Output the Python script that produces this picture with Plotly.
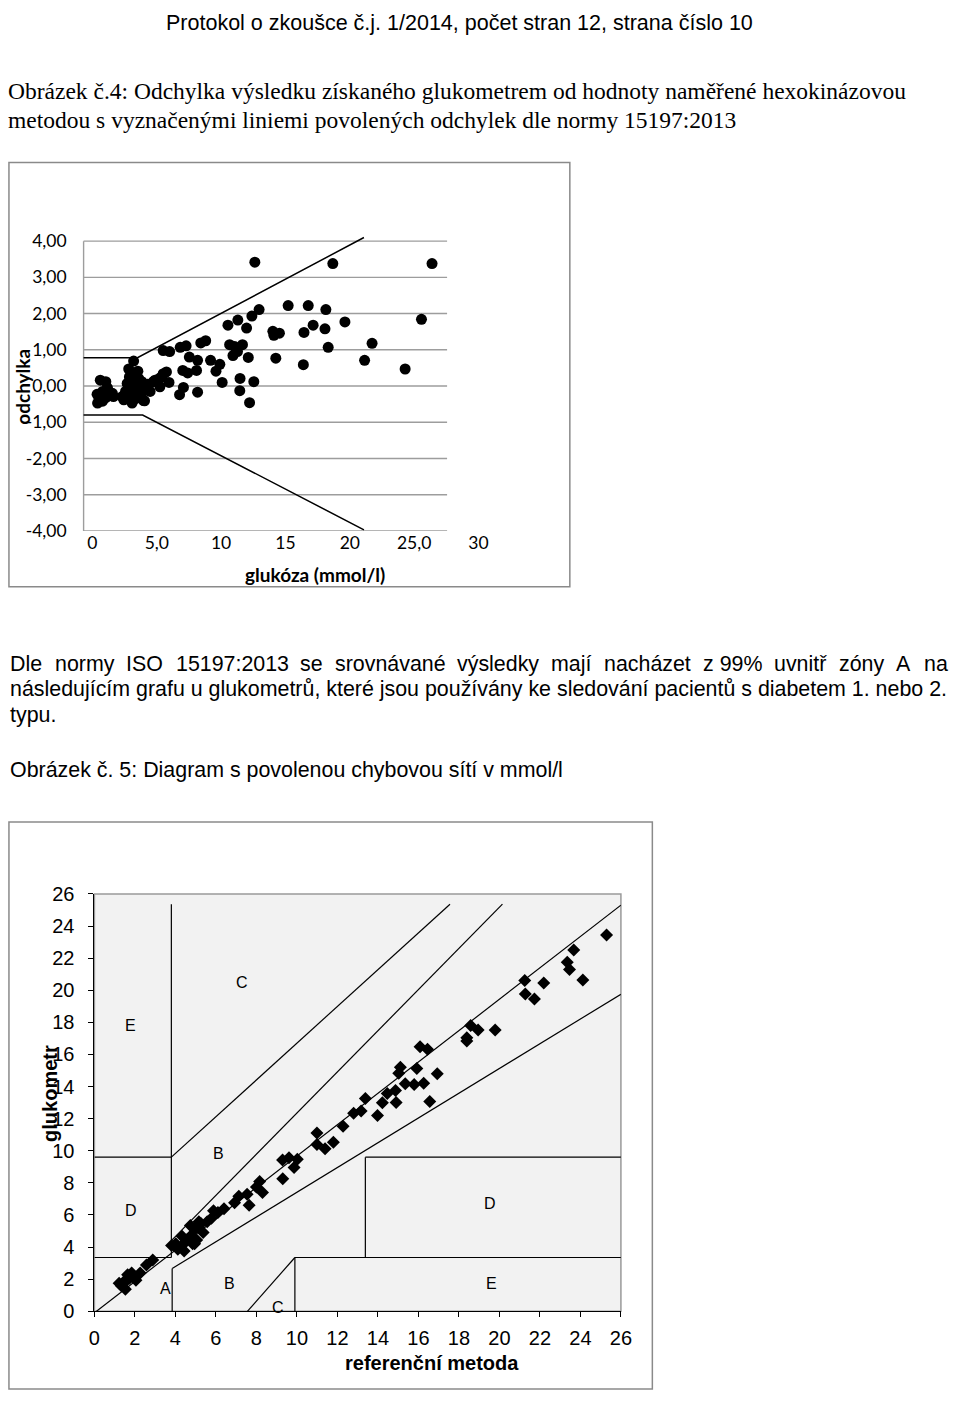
import plotly.graph_objects as go

W, H = 960, 1402

# ---------------- Chart 1 data: odchylka vs glukóza ----------------
dev_glucose = [12.62, 18.68, 26.39, 12.95, 15.21, 16.77, 18.14, 12.39, 11.30, 10.53,
               11.98, 19.62, 25.57, 14.02, 14.10, 14.53, 16.44, 17.15, 18.07, 8.80,
               8.42, 10.66, 11.05, 11.66, 11.27, 10.92, 21.73, 18.32, 12.11, 14.25,
               21.15, 16.39, 24.30, 9.18, 8.17, 9.90, 9.60, 8.09, 11.47, 12.54,
               10.08, 8.17, 11.45, 12.21, 6.82, 7.28, 5.50, 6.00, 7.53, 3.20,
               2.82, 3.53, 7.02, 7.40, 5.50, 5.75, 5.32, 4.86, 5.95, 7.07,
               6.77, 3.97, 2.82, 0.61, 1.04, 1.17, 0.36, 0.40, 0.79, 1.04,
               1.63, 0.79, 1.55, 2.87, 3.59, 2.70, 3.20, 3.84, 4.22, 3.97,
               2.57, 3.03, 3.53, 2.44, 3.08, 4.05, 4.48, 4.73, 5.11, 5.42,
               5.24, 2.31, 3.30, 3.40, 3.70, 2.90, 3.60, 3.00, 3.35, 3.80, 4.30]
dev_diff = [3.42, 3.38, 3.38, 2.11, 2.22, 2.22, 2.11, 1.93, 1.82, 1.68,
            1.60, 1.77, 1.84, 1.51, 1.40, 1.46, 1.48, 1.68, 1.58, 1.25,
            1.19, 1.14, 1.09, 1.14, 0.95, 0.84, 1.18, 1.07, 0.79, 0.77,
            0.71, 0.59, 0.47, 0.71, 0.71, 0.60, 0.41, 0.43, 0.21, 0.12,
            0.10, -0.17, -0.13, -0.46, 1.07, 1.11, 0.98, 0.95, 0.80, 0.69,
            0.47, 0.41, 0.43, 0.36, 0.34, 0.39, 0.24, 0.16, 0.10, -0.04,
            -0.24, -0.40, -0.15, 0.16, 0.12, -0.05, -0.23, -0.47, -0.42, -0.32,
            -0.29, -0.15, -0.20, 0.25, 0.21, 0.07, 0.03, 0.12, -0.02, -0.11,
            -0.15, -0.20, -0.26, -0.38, -0.47, -0.41, -0.15, 0.12, 0.19, 0.25,
            -0.02, -0.29, 0.30, -0.05, -0.10, -0.30, 0.00, 0.10, -0.35, -0.30, 0.05]

limit_upper_x = [-0.69, 3.5, 21.1]
limit_upper_y = [0.78, 0.78, 4.10]
limit_lower_x = [-0.69, 3.9, 21.1]
limit_lower_y = [-0.80, -0.80, -3.97]

grid1_levels = [4, 3, 2, 1, 0, -1, -2, -3, -4]
grid1_text = ["4,00", "3,00", "2,00", "1,00", "0,00", "-1,00", "-2,00", "-3,00", "-4,00"]
grid1_xend = 27.56
x1_tickvals = [0, 5, 10, 15, 20, 25, 30]
x1_ticktext = ["0", "5,0", "10", "15", "20", "25,0", "30"]

# ---------------- Chart 2 data: glukometr vs referenční metoda ----------------
ref_method = [25.29, 23.67, 23.35, 23.46, 24.12, 21.25, 22.19, 21.28, 21.73, 18.58,
              18.95, 19.79, 18.39, 18.39, 16.08, 16.45, 16.93, 15.11, 15.03, 15.92,
              15.35, 15.79, 16.26, 16.56, 14.87, 14.46, 14.22, 14.90, 13.98, 13.38,
              13.17, 12.80, 12.28, 11.80, 10.99, 10.99, 11.39, 10.02, 9.61, 9.86,
              9.29, 9.30, 8.16, 8.00, 8.30, 7.64, 7.54, 7.13, 6.92, 6.40,
              6.10, 5.88, 5.78, 5.57, 5.26, 5.16, 4.95, 4.74, 4.74, 4.54,
              4.33, 4.33, 4.02, 3.81, 4.12, 4.43, 4.85, 5.05, 5.37, 5.16,
              4.95, 2.88, 2.57, 2.26, 1.95, 1.84, 1.74, 1.53, 1.43, 1.33,
              1.53, 1.22, 1.64, 2.05]
meter = [23.44, 22.50, 21.74, 21.29, 20.63, 20.60, 20.45, 19.77, 19.45, 17.81,
         17.53, 17.53, 17.04, 16.83, 16.48, 16.32, 14.79, 15.20, 14.83, 15.13,
         14.17, 14.13, 14.21, 13.07, 13.76, 13.56, 12.99, 13.00, 12.19, 13.25,
         12.47, 12.33, 11.52, 10.53, 11.10, 10.39, 10.12, 9.47, 9.57, 8.96,
         9.43, 8.25, 8.08, 7.74, 7.40, 6.60, 7.29, 7.17, 6.76, 6.38,
         6.15, 6.26, 5.80, 5.58, 5.46, 5.24, 5.12, 5.35, 4.67, 4.44,
         4.10, 4.67, 4.21, 4.10, 3.87, 3.76, 4.21, 4.44, 4.90, 5.58,
         4.21, 3.19, 2.89, 2.39, 2.16, 2.39, 2.05, 1.94, 1.71, 1.59,
         1.37, 1.75, 2.28, 1.94]

zone_x0 = [3.80, 0.00, 0.00, 3.80, 3.80, 0.00, 3.84, 3.84, 7.35, 9.90, 9.90, 13.38, 13.38]
zone_y0 = [3.35, 9.60, 3.35, 9.60, 4.40, -0.10, 2.66, 0.00, -0.30, 0.00, 3.35, 3.35, 9.60]
zone_x1 = [3.80, 3.80, 3.80, 17.56, 20.15, 26.00, 26.00, 3.84, 9.90, 9.90, 26.00, 13.38, 26.00]
zone_y1 = [25.36, 9.60, 3.35, 25.36, 25.36, 25.30, 19.75, 2.66, 3.35, 3.35, 3.35, 9.60, 9.60]

zone_labels = ["E", "C", "D", "B", "A", "B", "C", "D", "E"]
zone_label_x = [1.8, 7.3, 1.8, 6.15, 3.5, 6.65, 9.05, 19.55, 19.6]
zone_label_y = [17.8, 20.5, 6.3, 9.8, 1.4, 1.7, 0.25, 6.7, 1.7]

# ---------------- helpers (pixel -> paper) ----------------
def fx(p):
    return p / W

def fy(p):
    return 1 - p / H

X1_PX0, X1_SCALE = 88.0, 13.1     # pixel of x=0, px per unit
Y1_PX0, Y1_SCALE = 381.0, 36.8    # pixel of y=0, px per unit
x1_left_px, x1_right_px = 77, 494
y1_min, y1_max = -4.0, 4.3

fig = go.Figure()

fig.add_trace(go.Scatter(x=limit_upper_x, y=limit_upper_y, mode="lines",
                         line=dict(color="black", width=1.5), xaxis="x", yaxis="y",
                         hoverinfo="skip", showlegend=False))
fig.add_trace(go.Scatter(x=limit_lower_x, y=limit_lower_y, mode="lines",
                         line=dict(color="black", width=1.5), xaxis="x", yaxis="y",
                         hoverinfo="skip", showlegend=False))
fig.add_trace(go.Scatter(x=dev_glucose, y=dev_diff, mode="markers",
                         marker=dict(color="black", size=11, symbol="circle",
                                     line=dict(width=0)),
                         xaxis="x", yaxis="y", showlegend=False))

fig.add_trace(go.Scatter(x=ref_method, y=meter, mode="markers",
                         marker=dict(color="black", size=10, symbol="diamond",
                                     line=dict(width=0)),
                         xaxis="x2", yaxis="y2", showlegend=False))

shapes = []
for lv in grid1_levels:
    shapes.append(dict(type="line", xref="x", yref="y", x0=(79 - X1_PX0) / X1_SCALE,
                       x1=grid1_xend, y0=lv, y1=lv,
                       line=dict(color="#9d9d9d", width=1.4), layer="below"))
shapes.append(dict(type="line", xref="x", yref="y", x0=(79 - X1_PX0) / X1_SCALE,
                   x1=(79 - X1_PX0) / X1_SCALE, y0=-4, y1=4,
                   line=dict(color="#9d9d9d", width=1.4), layer="below"))
shapes.append(dict(type="rect", xref="paper", yref="paper", x0=fx(3), x1=fx(574),
                   y0=fy(585), y1=fy(154), line=dict(color="#8a8a8a", width=1.5)))
shapes.append(dict(type="rect", xref="paper", yref="paper", x0=fx(3), x1=fx(658),
                   y0=fy(1400), y1=fy(824), line=dict(color="#8a8a8a", width=1.5)))
shapes.append(dict(type="rect", xref="x2 domain", yref="y2 domain", x0=0, x1=1, y0=0, y1=1,
                   fillcolor="#f2f2f2", line=dict(color="#9a9a9a", width=1.5), layer="below"))
for a, b, c, d in zip(zone_x0, zone_y0, zone_x1, zone_y1):
    shapes.append(dict(type="line", xref="x2", yref="y2", x0=a, y0=b, x1=c, y1=d,
                       line=dict(color="black", width=1.2)))

annotations = []
TXT = "Liberation Sans"
SERIF = "Liberation Serif"

def note(text, x, y, size, family, xanchor="left", color="black", bold=False, angle=0):
    if bold:
        text = "<b>" + text + "</b>"
    annotations.append(dict(text=text, x=fx(x), y=fy(y), xref="paper", yref="paper",
                            xanchor=xanchor, yanchor="middle", showarrow=False,
                            textangle=angle, borderpad=0,
                            font=dict(size=size, family=family, color=color)))

# Arial / Liberation Sans advance widths (1/1000 em) used to justify one line
ARIAL_W = {' ': 278, 'a': 556, 'b': 556, 'c': 500, 'd': 556, 'e': 556, 'f': 278, 'g': 556,
           'h': 556, 'i': 222, 'j': 222, 'k': 500, 'l': 222, 'm': 833, 'n': 556, 'o': 556,
           'p': 556, 'r': 333, 's': 500, 't': 278, 'u': 556, 'v': 500, 'y': 500, 'z': 500,
           'D': 722, 'I': 278, 'S': 667, 'O': 778, 'A': 667, ':': 278, '%': 889, '.': 278,
           'á': 556, 'é': 556, 'í': 278, 'ý': 500, 'ř': 333, 'ó': 556, 'č': 500}
for dch in "0123456789":
    ARIAL_W[dch] = 556

def text_w(s, size):
    return sum(ARIAL_W.get(ch, 556) for ch in s) * size / 1000.0

BODY = 21.4
note("Protokol o zkoušce č.j. 1/2014, počet stran 12, strana číslo 10", 462, 12, 21.5, TXT,
     xanchor="center")
note("Obrázek č.4: Odchylka výsledku získaného glukometrem od hodnoty naměřené hexokinázovou",
     1, 81, 23.5, SERIF)
note("metodou s vyznačenými liniemi povolených odchylek dle normy 15197:2013", 1, 111, 23.5, SERIF)

line1_words = ["Dle", "normy", "ISO", "15197:2013", "se", "srovnávané", "výsledky", "mají",
               "nacházet", "z 99%", "uvnitř", "zóny", "A", "na"]
lx0, lx1 = 3.0, 957.0
widths = [text_w(wd, BODY) for wd in line1_words]
gap = (lx1 - lx0 - sum(widths)) / (len(line1_words) - 1)
cx = lx0
for wd, wdt in zip(line1_words, widths):
    note(wd, cx, 663, BODY, TXT)
    cx += wdt + gap
note("následujícím grafu u glukometrů, které jsou používány ke sledování pacientů s diabetem 1. nebo 2.",
     3, 689, BODY, TXT)
note("typu.", 3, 715, BODY, TXT)
note("Obrázek č. 5: Diagram s povolenou chybovou sítí v mmol/l", 3, 771, BODY, TXT)

note("odchylka", 16, 382, 19, "Lato", xanchor="center", bold=True, angle=-90)
note("glukóza (mmol/l)", 315, 572, 19, "Lato", xanchor="center", bold=True)
note("glukometr", 45, 1100, 20, TXT, xanchor="center", bold=True, angle=-90)
note("referenční metoda", 434, 1374, 20, TXT, xanchor="center", bold=True)

for t, xx, yy in zip(zone_labels, zone_label_x, zone_label_y):
    annotations.append(dict(text=t, x=xx, y=yy, xref="x2", yref="y2", showarrow=False,
                            xanchor="center", yanchor="middle",
                            font=dict(size=16, family=TXT, color="black")))

fig.update_layout(
    width=W, height=H,
    margin=dict(l=0, r=0, t=0, b=0),
    paper_bgcolor="white", plot_bgcolor="white",
    showlegend=False,
    shapes=shapes, annotations=annotations,
    xaxis=dict(domain=[fx(x1_left_px), fx(x1_right_px)],
               range=[(x1_left_px - X1_PX0) / X1_SCALE, (x1_right_px - X1_PX0) / X1_SCALE],
               anchor="y", showgrid=False, zeroline=False, showline=False, ticks="",
               tickvals=x1_tickvals, ticktext=x1_ticktext,
               tickfont=dict(family="Lato", size=17.5, color="black")),
    yaxis=dict(domain=[fy(Y1_PX0 - y1_min * Y1_SCALE), fy(Y1_PX0 - y1_max * Y1_SCALE)],
               range=[y1_min, y1_max], anchor="x", showgrid=False, zeroline=False,
               showline=False, ticks="", tickvals=grid1_levels, ticktext=grid1_text,
               ticklabelstandoff=14,
               tickfont=dict(family="Lato", size=17.5, color="black")),
    xaxis2=dict(domain=[fx(90), fx(626)], range=[0, 26], anchor="y2", showgrid=False,
                zeroline=False, showline=True, linecolor="black", linewidth=1,
                ticks="outside", ticklen=5, tickcolor="black", dtick=2, tick0=0,
                ticklabelstandoff=4,
                tickfont=dict(family=TXT, size=20, color="black")),
    yaxis2=dict(domain=[fy(1321), fy(897)], range=[0, 26], anchor="x2", showgrid=False,
                zeroline=False, showline=True, linecolor="black", linewidth=1,
                ticks="outside", ticklen=5, tickcolor="black", dtick=2, tick0=0,
                ticklabelstandoff=10,
                tickfont=dict(family=TXT, size=20, color="black")),
)

fig.write_html("out.html")
